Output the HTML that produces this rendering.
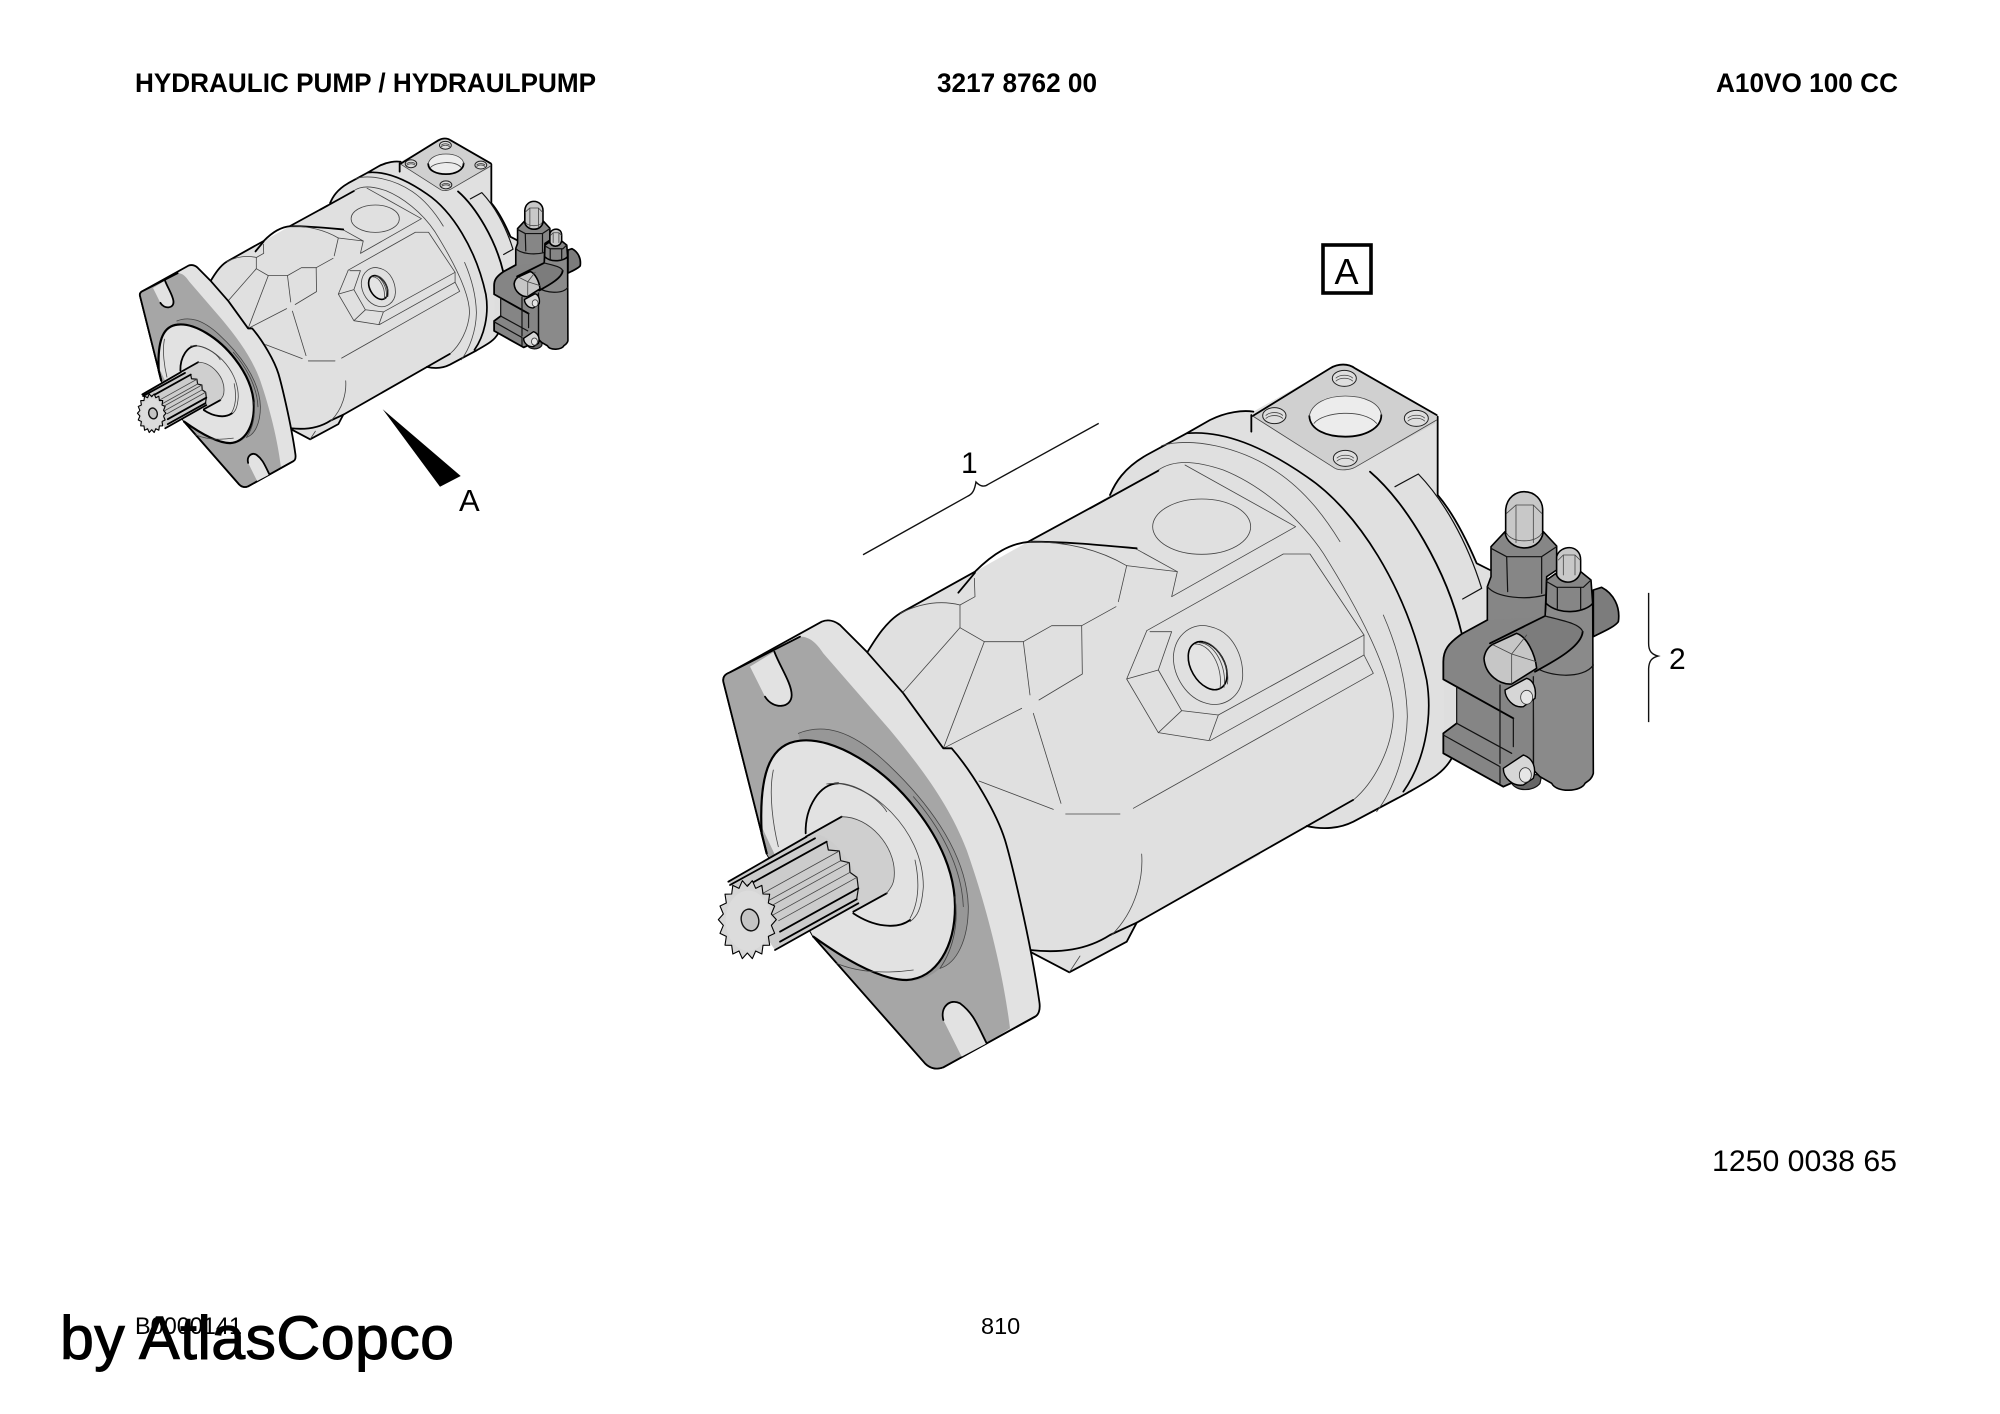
<!DOCTYPE html>
<html><head><meta charset="utf-8"><style>
html,body{margin:0;padding:0;background:#fff}
svg{display:block}
text{font-family:"Liberation Sans",sans-serif;fill:#000}
.f *,.t,.k,.m{vector-effect:non-scaling-stroke;stroke-linejoin:round;stroke-linecap:round}
.t{fill:none;stroke:#444;stroke-width:.8}
.m{fill:none;stroke:#111;stroke-width:1.2}
.k{fill:none;stroke:#000;stroke-width:1.8}
.b{fill:#e0e0e0;stroke:none}
</style></head><body>
<svg width="2000" height="1414" viewBox="0 0 2000 1414" xmlns="http://www.w3.org/2000/svg">
<defs>
<g id="pump" class="f">
 <!-- foot -->
 <polygon points="1030,951.7 1069.3,972.3 1126.7,941.7 1136.7,922.7 1060,900" fill="#e0e0e0"/>
 <path class="k" d="M1030,951.7L1069.3,972.3L1126.7,941.7L1136.7,922.7"/>
 <path class="t" d="M1069.3,972.3L1080,956"/>
 <!-- body fills -->
 <g transform="translate(860,500) scale(.33333)">
  <path class="b" d="M20,460C50,410 80,365 120,340L345,215L505,125L735,0L1200,0L1200,1065L830,1268L750,1305C680,1350 600,1360 510,1350L250,745Z"/>
 </g>
 <g transform="translate(1090,400) scale(.33333)">
  <path class="b" d="M0,325L60,285C75,250 100,205 170,165L290,100L360,60C410,35 460,30 490,35L640,-50L1043,50L1043,285C1090,340 1130,420 1160,490L1200,510L1200,1000L1085,1075C1060,1120 1020,1140 950,1180L790,1265C750,1285 700,1290 650,1278L415,1410L0,1410Z"/>
  <!-- rear lines -->
  <path class="k" d="M0,325L205,212"/>
  <path class="k" d="M60,285C75,250 100,205 170,165L290,100L360,60C410,35 460,30 490,35"/>
  <path class="k" d="M1043,50L1043,285C1090,340 1130,420 1160,490L1200,510"/>
  <path class="k" d="M290,100C400,90 520,140 650,230C800,330 950,560 1010,840C1030,960 1000,1090 940,1175" style="stroke-width:1.7"/>
  <path class="k" d="M840,215C950,310 1070,510 1115,700"/>
  <path class="m" d="M915,260L985,222C1060,300 1130,420 1175,565L1118,597"/>
  <path class="k" d="M1085,1075C1060,1120 1020,1140 950,1180L790,1265C750,1285 700,1290 650,1278"/>
  <path class="t" d="M215,137C300,110 450,140 560,215C650,275 710,360 750,425"/>
  <path class="t" d="M205,210C250,180 310,180 400,210C500,250 620,340 700,460C800,620 910,820 910,950C905,1050 850,1150 790,1200"/>
  <path class="t" d="M880,645C930,760 950,860 952,950C950,1060 910,1170 860,1235"/>
  <path class="t" d="M135,445L262,515L245,590L617,380L285,195"/>
  <path class="t" d="M110,497L262,515"/>
  <ellipse class="t" cx="335" cy="380" rx="147" ry="83"/>
  <path class="t" d="M170,692L580,462L660,462L822,705L822,765L850,820L130,1225"/>
  <path class="t" d="M385,945L822,705M360,1022L822,765"/>
 </g>
 <!-- bottom thick line -->
 <path class="k" d="M1136.7,922.7L1353,800"/>
 <!-- dome -->
 <g transform="translate(860,500) scale(.33333)">
  <path class="k" d="M20,460C50,410 80,365 120,340L345,215C400,160 450,130 510,125C620,125 720,135 830,145"/>
  <path class="k" d="M505,125L735,0"/>
  <path class="k" d="M295,278L345,218"/>
  <path class="k" d="M510,1350C600,1360 680,1350 750,1305L830,1268"/>
  <path class="t" d="M510,125C620,125 720,150 800,197L775,305M768,320L665,377L575,377L490,425L373,425L300,383L300,315L345,290L343,235"/>
  <path class="t" d="M300,315C240,300 180,310 120,340M300,383L128,578M115,595L250,745L373,425M250,745L485,625M537,600L667,522L665,377M490,425L510,585M520,640L603,910M357,843L580,928M617,942L780,942"/>
  <path class="t" d="M845,1062C850,1130 830,1230 755,1305"/>
  <!-- nut -->
  <path class="t" d="M860,393L800,537L895,698L1047,722L1075,645L965,632L895,510L800,537M895,510L935,395L870,395M965,632L895,698"/>
  <path class="t" d="M940,470C945,400 1000,365 1050,380C1120,395 1150,470 1148,530C1145,590 1090,625 1040,610C980,595 940,530 940,470Z"/>
  <ellipse cx="1043" cy="497" rx="50" ry="78" transform="rotate(-30 1043 497)" fill="#e4e4e4" stroke="#000" stroke-width="1.6"/>
  <path class="t" d="M1005,432C1050,430 1090,500 1080,566M1018,428C1062,428 1102,500 1092,562M1030,425C1072,430 1112,500 1102,552"/>
 </g>
 <!-- flange -->
 <g transform="translate(710,620) scale(.33333)">
  <path d="M40,185C38,170 45,163 60,157L335,5C355,-3 375,3 390,15L470,95L580,220L700,385L725,385C790,460 860,580 885,660C900,710 960,950 988,1145C992,1170 985,1185 975,1190L700,1342C680,1350 660,1345 645,1330L310,950L170,700Z" fill="#e2e2e2" stroke="#000" stroke-width="1.8"/>
  <path d="M40,185C38,170 45,163 60,157L270,50C300,50 320,70 340,100L540,330C640,450 720,560 770,690C830,860 880,1060 900,1225L830,1270L755,1310L700,1342C680,1350 660,1345 645,1330L310,950L170,700Z" fill="#a6a6a6"/>
  <path class="k" d="M40,185C38,170 45,163 60,157L270,50M40,185L170,700M310,950L645,1330C660,1345 680,1350 700,1342L975,1190"/>
  <!-- slots -->
  <path d="M120,140L193,95C210,140 245,190 245,225C245,265 190,270 165,230Z" fill="#e2e2e2"/>
  <path class="k" d="M193,95C210,140 245,190 245,225C245,265 190,270 165,230"/>
  <path d="M755,1310L700,1200C690,1160 720,1135 750,1150C790,1180 800,1210 830,1270Z" fill="#e2e2e2"/>
  <path class="k" d="M830,1270C800,1210 790,1180 750,1150C720,1135 690,1160 700,1200"/>
  <!-- seal ring -->
  <path d="M265,340C340,310 420,330 520,420C640,530 770,690 775,860C775,960 740,1030 690,1045C650,1080 610,1085 590,1080L600,900L300,500Z" fill="#979797"/>
  <path class="t" d="M265,340C340,310 420,330 520,420C640,530 770,690 775,860C775,960 740,1030 690,1045"/>
  <path class="t" d="M610,530C680,610 755,730 760,860"/>
  <!-- disc -->
  <path d="M155,620C145,440 190,370 270,362C370,350 520,440 620,570C690,660 735,760 735,860C735,980 680,1075 590,1080C500,1080 380,1000 310,950Z" fill="#e2e2e2"/>
  <path class="k" d="M170,700L155,640C145,440 190,370 270,362C370,350 520,440 620,570C690,660 735,760 735,860C735,980 680,1075 590,1080C500,1080 380,1000 310,950" style="stroke-width:2.2"/>
  <path class="t" d="M190,450C175,520 190,620 205,680M735,830C745,900 735,980 690,1045M380,1030C450,1060 540,1060 610,1050"/>
  <!-- boss -->
  <path class="k" d="M287,640C285,560 330,490 385,490"/>
  <path class="t" d="M385,490C470,490 640,620 640,800C635,870 620,890 600,905"/>
  <path class="t" d="M350,492C430,480 510,540 530,575M615,720C630,790 625,850 600,895"/>
  <path class="k" d="M430,880C490,920 560,930 600,900"/>
  <!-- collar -->
  <path d="M290,650L395,590C480,590 555,680 553,760C553,790 545,800 530,820L430,875Z" fill="#cfcfcf"/>
  <path class="k" d="M288,650L395,590M530,820L430,875"/>
  <path class="t" d="M395,590C480,590 555,680 553,760C553,790 545,800 530,820"/>
  <!-- splines -->
  <path d="M55,785L290,650L330,645C380,660 440,750 450,790L445,850L195,990Z" fill="#cccccc"/>
  <path class="k" d="M55,785L290,650M60,795L315,655M195,990L445,850"/>
  <path class="m" d="M350,665L355,690L388,693L392,722L418,728L420,757L441,772L445,805L440,838"/>
  <path class="k" d="M350,665L115,795M445,805L210,935M440,838L210,965"/>
  <path class="t" d="M388,693L153,823M392,722L157,852M418,728L183,858M420,757L185,887M441,772L206,902"/>
  <!-- gear -->
  <polygon points="199,899 184,916 194,940 175,949 179,975.5 159,976 155.5,1002 137,993 127,1016 112,999 97,1016 87,993 68.5,1002 65,976 45,975.5 49,949 30,940 40,916 25,899 40,882 30,858 49,849 45,822.5 65,822 68.5,796 87,805 97,782 112,799 127,782 137,805 155.5,796 159,822 179,822.5 175,849 194,858 184,882" fill="#d6d6d6" stroke="#000" stroke-width="1.1"/>
  <ellipse cx="115" cy="902" rx="68" ry="90" fill="#dcdcdc"/>
  <ellipse cx="120" cy="900" rx="26" ry="33" transform="rotate(-15 120 900)" fill="#c4c4c4" stroke="#111" stroke-width="1.4"/>
 </g>
 <!-- port + valve -->
 <g transform="translate(1240,360) scale(.33333)">
  <path d="M38,168L270,25C295,10 325,10 345,25L590,165L585,190L345,322C330,330 300,333 285,325Z" fill="#d0d0d0" stroke="none"/>
  <path class="k" d="M38,168L270,25C295,10 325,10 345,25L590,165"/>
  <path class="t" d="M38,168L285,325C300,333 330,330 345,322L590,180"/>
  <path class="k" d="M34,165L34,215"/>
  <ellipse cx="316" cy="168" rx="108" ry="62" fill="#ececec"/>
  <path class="k" d="M208,168C210,210 260,230 316,230C375,230 424,205 424,165"/>
  <path class="t" d="M208,168C215,130 260,108 316,108C375,108 420,130 424,165M222,190C250,155 370,145 410,190"/>
  <g fill="#dedede" stroke="#222" stroke-width="1">
   <ellipse cx="103" cy="167" rx="35" ry="24"/><ellipse cx="313" cy="55" rx="36" ry="24"/>
   <ellipse cx="529" cy="175" rx="36" ry="24"/><ellipse cx="316" cy="295" rx="36" ry="24"/>
  </g>
  <path class="t" d="M78,166C90,155 116,155 128,166M78,175C90,164 116,164 128,175M288,54C300,43 326,43 338,54M288,63C300,52 326,52 338,63M504,174C516,163 542,163 554,174M504,183C516,172 542,172 554,183M291,294C303,283 329,283 341,294M291,303C303,292 329,292 341,303"/>
  <!-- valve -->
  <path d="M815,1270C830,1295 880,1295 900,1270L905,1245L815,1240Z" fill="#666" stroke="#111" stroke-width="1.2"/>
  <path d="M1060,690L1085,682C1120,700 1142,740 1135,785C1125,800 1090,815 1060,830Z" fill="#7c7c7c" stroke="#000" stroke-width="1.7"/>
  <path d="M1058,700L1060,1240C1055,1260 1040,1265 1035,1270C1025,1295 950,1300 935,1270L900,1250L880,1230L880,800L915,770L918,725Z" fill="#8a8a8a" stroke="#000" stroke-width="1.6"/>
  <path class="m" d="M885,920C920,950 1030,960 1060,915"/>
  <!-- large plug and hex -->
  <path d="M797,540L797,450C800,410 830,395 852,395C885,395 908,420 908,450L908,530C905,560 875,580 850,578C820,575 800,565 797,540Z" fill="#c8c8c8" stroke="#000" stroke-width="1.6"/>
  <path class="t" d="M800,460L828,435L880,435L905,460M828,435L828,548M880,435L880,548M800,520C815,550 890,550 905,520"/>
  <path d="M753,560L795,515C800,575 900,585 910,515L950,558L950,630L920,650L915,780L742,860L742,680L753,650Z" fill="#868686" stroke="#000" stroke-width="1.6"/>
  <path class="m" d="M753,565L800,590L905,590L950,560M800,590L803,695M905,590L905,700M742,680C770,715 860,720 915,705"/>
  <!-- small plug and hex -->
  <path d="M950,640L950,590C955,570 975,563 988,563C1005,563 1022,575 1022,600L1022,655C1005,675 970,675 950,650Z" fill="#c8c8c8" stroke="#000" stroke-width="1.5"/>
  <path class="t" d="M955,600L970,585L1005,585L1020,600M970,585L970,645M1005,585L1005,645"/>
  <path d="M920,660L948,640C955,672 1010,680 1022,635L1053,660L1058,730C1040,755 960,770 918,730Z" fill="#868686" stroke="#000" stroke-width="1.6"/>
  <path class="m" d="M920,665L950,682L1030,682L1053,660M952,682L952,745M1022,682L1022,750"/>
  <!-- bracket -->
  <path d="M610,905C610,870 625,850 665,822L742,780L915,770L885,935L880,1240L790,1280L610,1180L610,1120L650,1090L650,980L610,958Z" fill="#858585"/>
  <path d="M612,958L650,980L650,1090L612,1120Z" fill="#dedede"/>
  <path class="k" d="M742,780L665,822C625,850 610,870 610,905L610,958L820,1075M610,1120L610,1180L790,1280L880,1240M610,1120L650,1090"/>
  <path class="m" d="M650,980L650,1090L815,1180M610,1125L780,1220L780,1270M780,975L780,1210M820,1075L820,1160M880,950L880,1235"/>
  <!-- tube -->
  <path d="M750,850L915,768C1000,785 1030,800 1028,820C1025,860 940,905 885,935L810,970Z" fill="#7c7c7c"/>
  <path class="k" d="M750,850L915,768M1028,815C1025,860 940,905 885,935"/>
  <path class="m" d="M915,768C960,780 1020,790 1028,815"/>
  <!-- hex head -->
  <path d="M732,895C735,870 750,855 765,850L830,820C860,830 885,880 890,925L815,972C780,975 735,945 732,895Z" fill="#c6c6c6" stroke="#000" stroke-width="1.6"/>
  <path class="t" d="M760,855L815,882L860,825M815,882L815,970M815,882L888,905"/>
  <!-- socket screws -->
  <path d="M795,990L860,955C880,960 890,985 885,1015L850,1040C820,1045 795,1015 795,990Z" fill="#d6d6d6" stroke="#000" stroke-width="1.4"/>
  <ellipse cx="860" cy="1012" rx="18" ry="21" fill="#e6e6e6" stroke="#333" stroke-width=".8"/>
  <path d="M790,1225L850,1185C880,1195 890,1225 880,1255L850,1275C820,1280 790,1255 790,1225Z" fill="#d6d6d6" stroke="#000" stroke-width="1.4"/>
  <ellipse cx="856" cy="1245" rx="18" ry="22" fill="#e6e6e6" stroke="#333" stroke-width=".8"/>
 </g>
</g>
</defs>

<use href="#pump"/>
<use href="#pump" transform="translate(-216,-42) scale(.492,.495)"/>

<polygon points="382.7,409.3 460.7,476 440,486.7" fill="#000"/>
<text x="459" y="511" font-size="31">A</text>

<g transform="translate(680,340) scale(.4464,.4847)">
 <path style="vector-effect:non-scaling-stroke" fill="none" stroke="#111" stroke-width="1.4" d="M938,172L690,298C680,305 670,300 663,293C660,310 655,318 645,322L410,443"/>
</g>
<text x="961" y="473" font-size="30">1</text>

<g transform="translate(1100,340) scale(.4464,.3571)">
 <path style="vector-effect:non-scaling-stroke" fill="none" stroke="#111" stroke-width="1.4" d="M1229,708L1229,850C1229,870 1235,880 1250,885C1235,890 1230,900 1229,920L1229,1070"/>
</g>
<text x="1669" y="669" font-size="30">2</text>

<rect x="1323" y="245" width="48" height="48" fill="#fff" stroke="#000" stroke-width="3.6"/>
<text x="1346.5" y="284" font-size="36" text-anchor="middle">A</text>

<text x="135" y="92" font-size="26.5" font-weight="bold" textLength="461" lengthAdjust="spacingAndGlyphs">HYDRAULIC PUMP / HYDRAULPUMP</text>
<text x="937" y="92" font-size="26.5" font-weight="bold" textLength="160" lengthAdjust="spacingAndGlyphs">3217 8762 00</text>
<text x="1716" y="92" font-size="26.5" font-weight="bold" textLength="182" lengthAdjust="spacingAndGlyphs">A10VO 100 CC</text>

<text x="1712" y="1171" font-size="30" textLength="185" lengthAdjust="spacingAndGlyphs">1250 0038 65</text>

<text x="135" y="1334" font-size="24" textLength="107" lengthAdjust="spacingAndGlyphs">B0000141</text>
<text x="981" y="1334" font-size="23.5">810</text>
<text x="60" y="1359" font-size="61" textLength="394" stroke="#000" stroke-width="1" style="fill:#000">by AtlasCopco</text>
</svg>
</body></html>
